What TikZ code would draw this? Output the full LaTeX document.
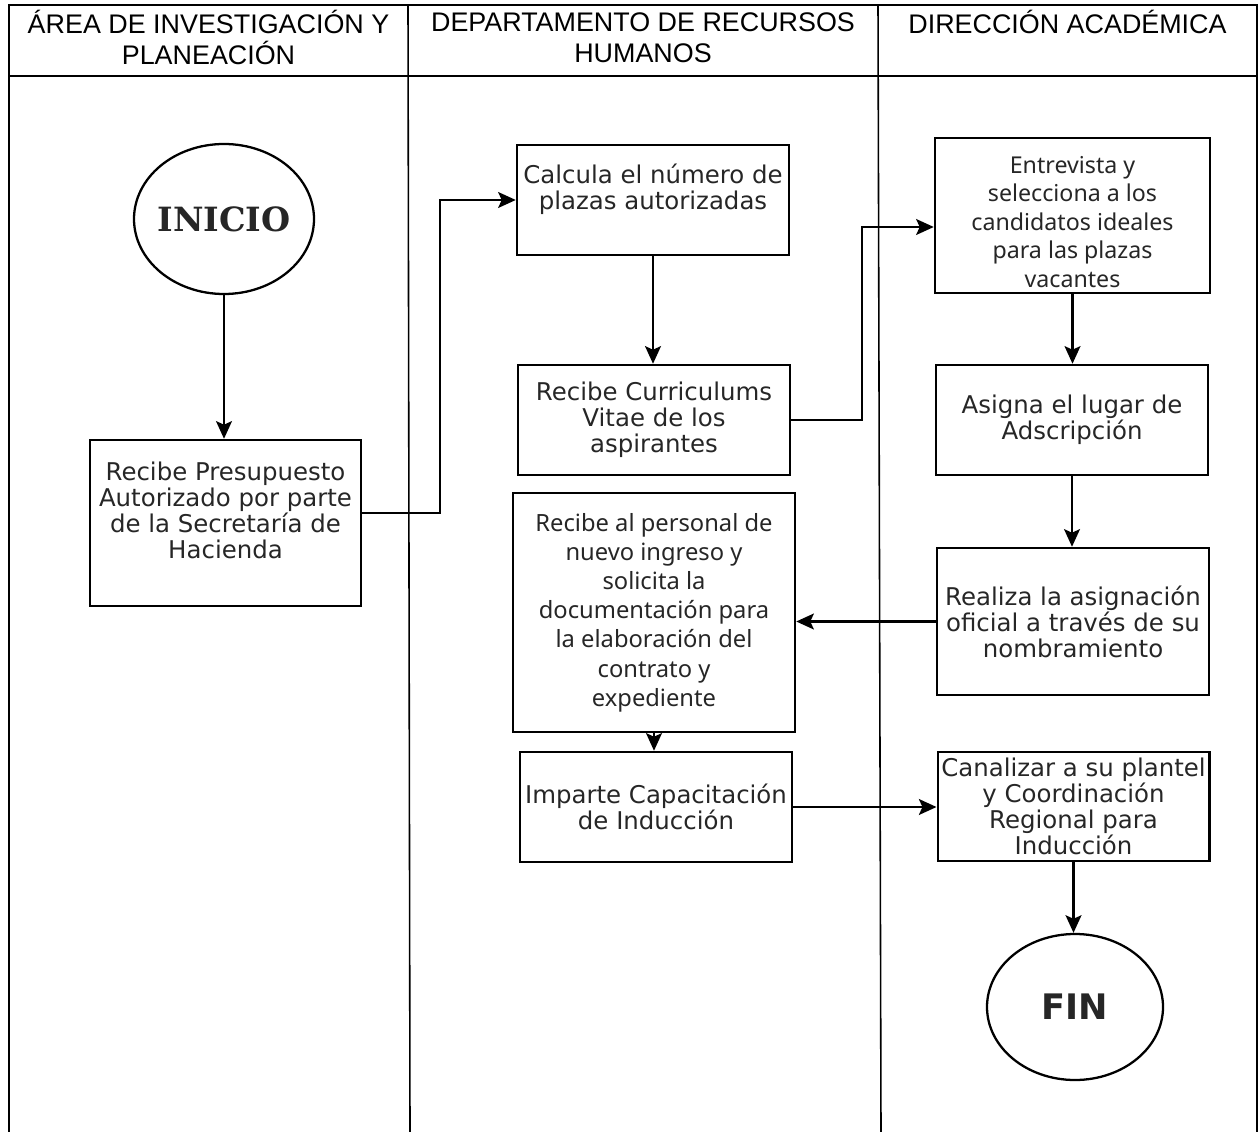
\documentclass[tikz,border=0pt]{standalone}
\usepackage{fontspec}
\setmainfont{Liberation Sans}
\newfontfamily\verdanafont{DejaVu Sans}
\newfontfamily\aptosfont{Noto Sans}
\newfontfamily\serifbold{DejaVu Serif}
\usetikzlibrary{arrows.meta, shapes.geometric}

\begin{document}
\begin{tikzpicture}[
  lane/.style={line width=0.9pt},
  proc/.style={draw, line width=1.4pt, align=center, inner sep=2pt, text=black!85,
    font=\verdanafont\fontsize{13.9}{14.8}\selectfont},
  procalt/.style={proc, font=\aptosfont\fontsize{13.5}{16.6}\selectfont},
  term/.style={draw, ellipse, line width=1.3pt, inner sep=0pt, text=black!85},
  flow/.style={line width=1.4pt, -{Stealth[length=10pt, width=9pt, inset=2pt]}},
  title/.style={align=center, font=\fontsize{15.3}{17.6}\selectfont}
]
\useasboundingbox (0,0) rectangle (25.2,-22.64);

\draw[lane] (0.18,-22.64) -- (0.18,-0.1) -- (25.14,-0.1) -- (25.14,-22.64);
\draw[lane] (8.16,-0.1) -- (8.2,-22.64);
\draw[lane] (17.56,-0.1) -- (17.62,-22.64);
\draw[line width=1.4pt] (0.18,-1.52) -- (25.14,-1.52);

\node[title] (lane1) at (4.17,-0.75) {ÁREA DE INVESTIGACIÓN Y\\PLANEACIÓN};
\node[title] (lane2) at (12.86,-0.75) {DEPARTAMENTO DE RECURSOS\\HUMANOS};
\node[title] (lane3) at (21.35,-0.44) {DIRECCIÓN ACADÉMICA};

\node[term, minimum width=3.6cm, minimum height=3cm,
  font=\serifbold\bfseries\fontsize{19}{22}\selectfont] (inicio) at (4.48,-4.38) {\makebox[2cm]{INICIO}};
\node[proc, minimum width=5.42cm, minimum height=3.32cm] (presupuesto) at (4.51,-10.46)
  {Recibe Presupuesto\\Autorizado por parte\\de la Secretaría de\\Hacienda\\\mbox{}};

\node[proc, minimum width=5.44cm, minimum height=2.2cm] (calcula) at (13.06,-4.0)
  {Calcula el número de\\plazas autorizadas\\\mbox{}};
\node[proc, minimum width=5.44cm, minimum height=2.2cm] (curriculums) at (13.08,-8.4)
  {Recibe Curriculums\\Vitae de los\\aspirantes};
\node[procalt, minimum width=5.64cm, minimum height=4.78cm] (personal) at (13.08,-12.25)
  {Recibe al personal de\\nuevo ingreso y\\solicita la\\documentación para\\la elaboración del\\contrato y\\expediente};
\node[proc, minimum width=5.44cm, minimum height=2.2cm] (imparte) at (13.12,-16.14)
  {Imparte Capacitación\\de Inducción};

\node[procalt, minimum width=5.5cm, minimum height=3.1cm,
  font=\aptosfont\fontsize{13.2}{16.2}\selectfont] (entrevista) at (21.45,-4.31)
  {\rule{0pt}{17pt}Entrevista y\\selecciona a los\\candidatos ideales\\para las plazas\\vacantes};
\node[proc, minimum width=5.44cm, minimum height=2.2cm] (asigna) at (21.44,-8.4)
  {Asigna el lugar de\\Adscripción};
\node[proc, minimum width=5.44cm, minimum height=2.94cm] (realiza) at (21.46,-12.43)
  {Realiza la asignación\\oficial a través de su\\nombramiento};
\node[proc, minimum width=5.42cm, minimum height=2.18cm] (canaliza) at (21.47,-16.13)
  {Canalizar a su plantel\\y Coordinación\\Regional para\\Inducción};
\node[term, minimum width=3.52cm, minimum height=2.92cm,
  font=\verdanafont\bfseries\fontsize{20}{24}\selectfont] (fin) at (21.5,-20.14) {\makebox[1.6cm]{FIN}};

\coordinate (codo1) at (8.8,-4.0);
\coordinate (codo2) at (17.24,-4.54);

\draw[flow] (inicio.south) -- (inicio.south |- presupuesto.north);
\draw[flow] ([yshift=0.2cm]presupuesto.east) -| (codo1) -- (calcula.west);
\draw[flow] (calcula.south) -- (calcula.south |- curriculums.north);
\draw[flow] (curriculums.east) -| (codo2) -- (codo2 -| entrevista.west);
\draw[flow] (entrevista.south) -- (entrevista.south |- asigna.north);
\draw[flow] (asigna.south) -- (asigna.south |- realiza.north);
\draw[flow] (realiza.west) -- (realiza.west -| personal.east);
\draw[flow] (personal.south) -- (personal.south |- imparte.north);
\draw[flow] (imparte.east) -- (imparte.east -| canaliza.west);
\draw[flow] (canaliza.south) -- (canaliza.south |- fin.north);
\end{tikzpicture}
\end{document}
